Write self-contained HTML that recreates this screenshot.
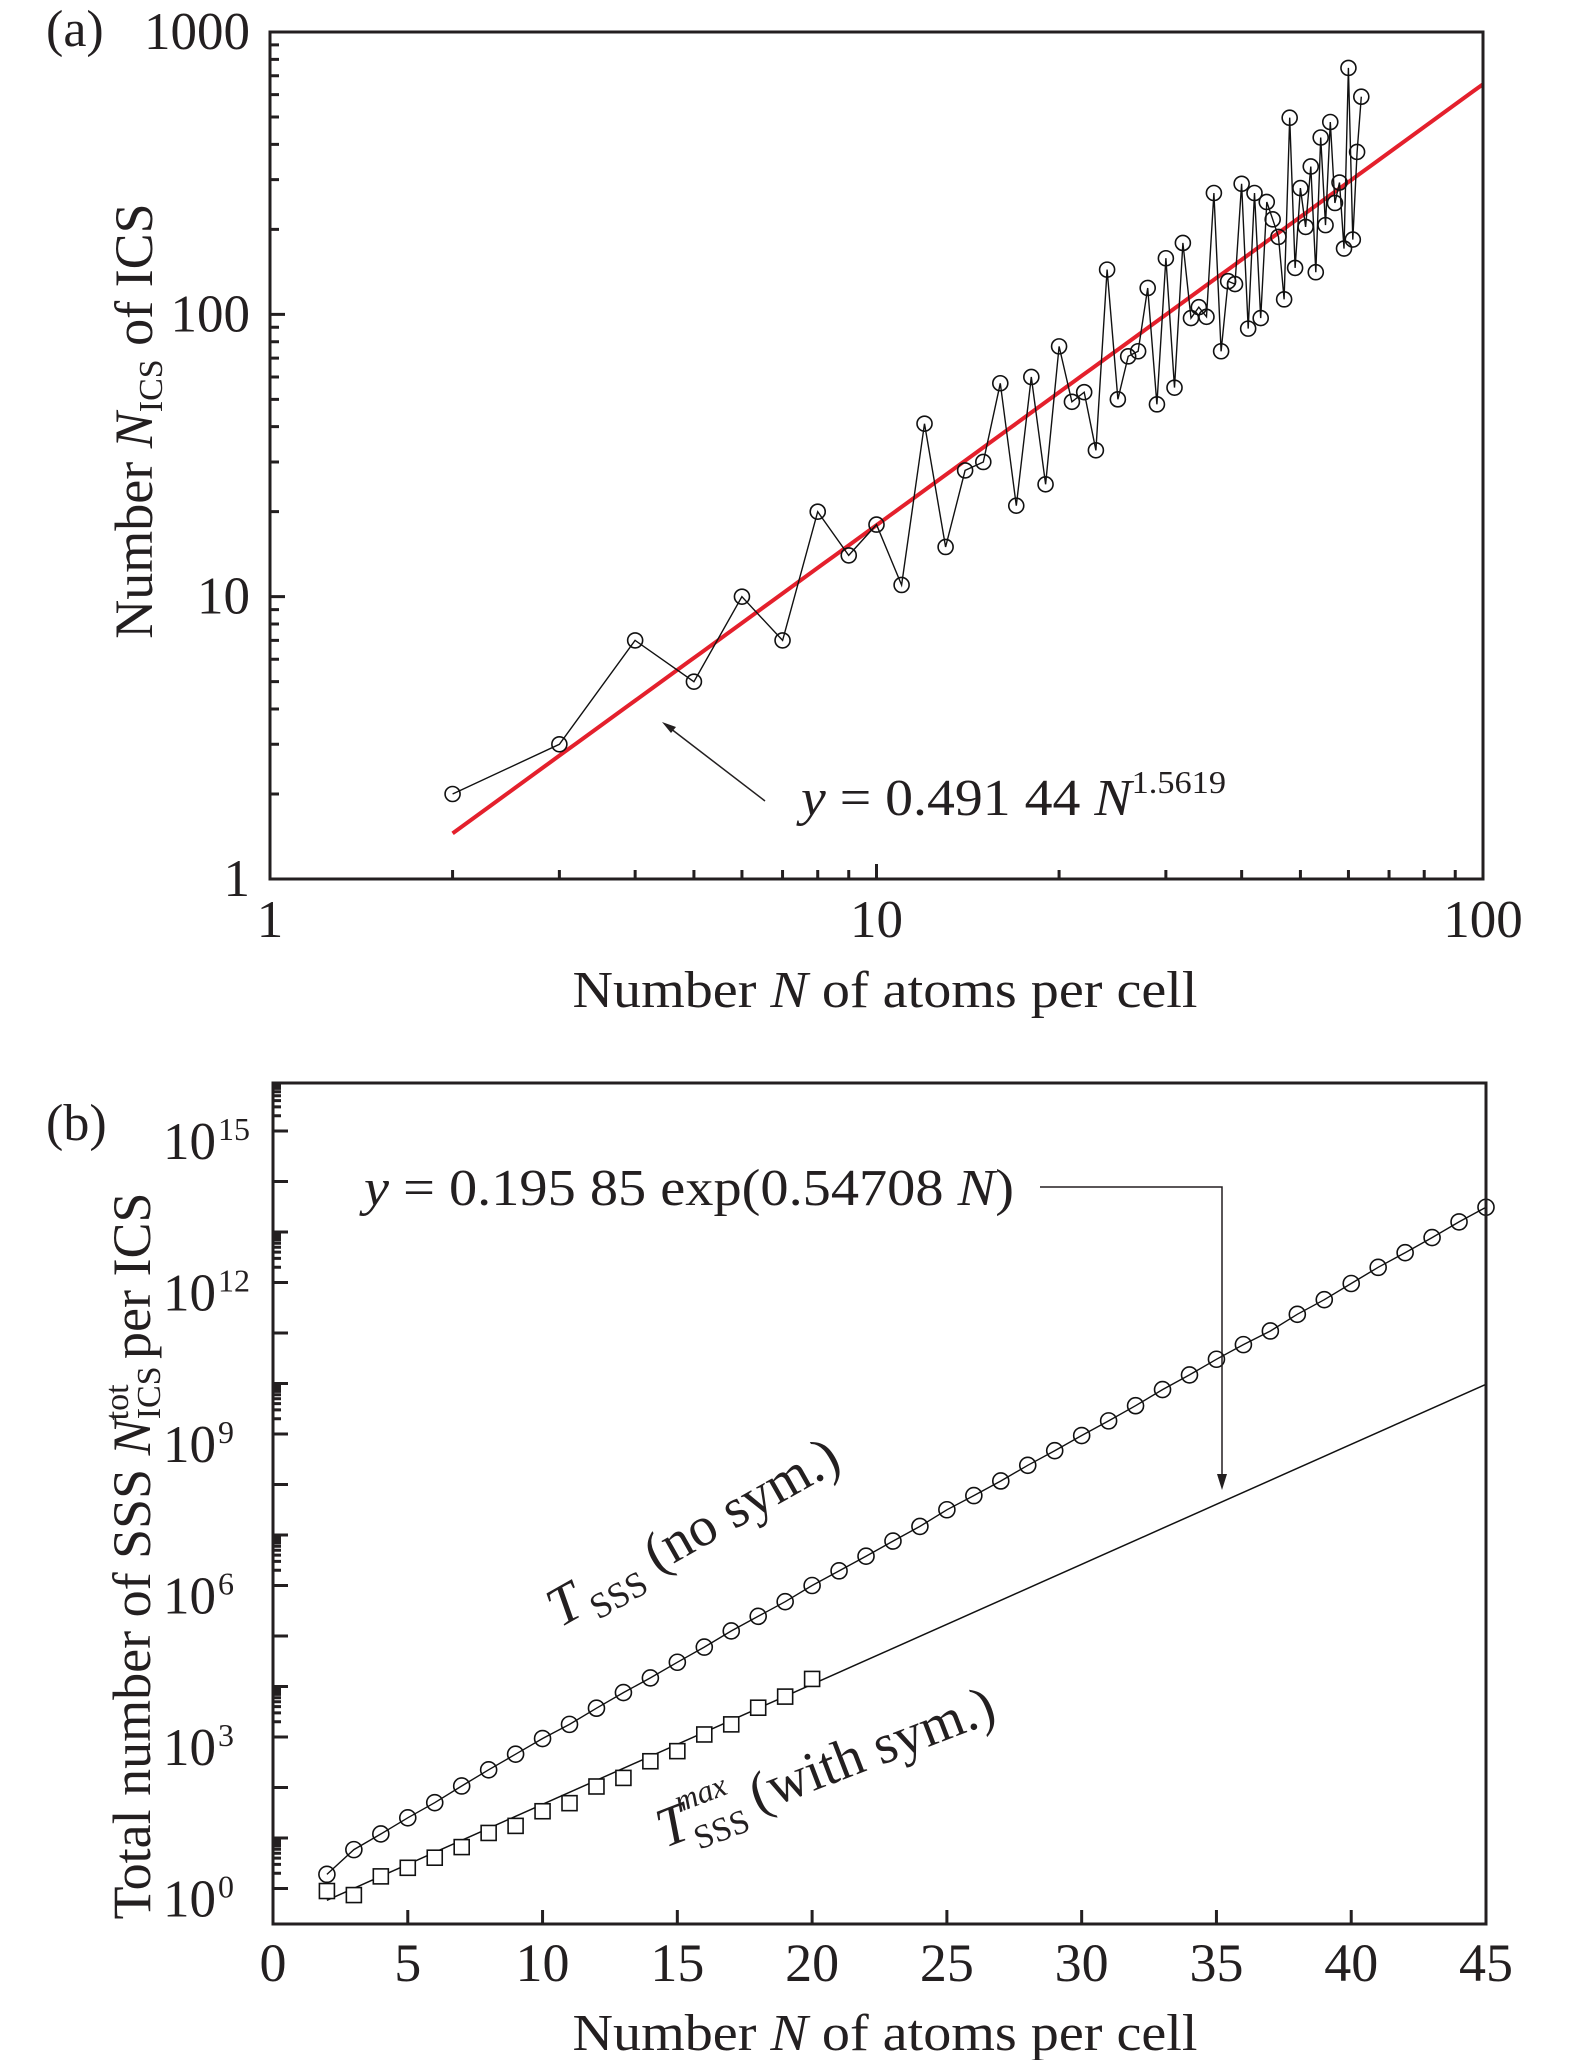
<!DOCTYPE html>
<html><head><meta charset="utf-8">
<style>
html,body{margin:0;padding:0;background:#fff;}
svg{display:block;font-family:"Liberation Serif",serif;}
</style></head>
<body>
<svg id="fig" width="1575" height="2060" viewBox="0 0 1575 2060" xmlns="http://www.w3.org/2000/svg">
<g id="pa"></g>
<g id="pb"></g>
</svg>
<script>
// ---------- Panel (a) data ----------
const aN = [2,3,4,5,6,7,8,9,10,11,12,13,14,15,16,17,18,19,20,21,22,23,24,25,26,27,28,29,30,31,32,33,34,35,36,37,38,39,40,41,42,43,44,45,46,47,48,49,50,51,52,53,54,55,56,57,58,59,60,61,62,63];
const aNics = [2,3,7,5,10,7,20,14,18,11,41,15,28,30,57,21,60,25,77,49,53,33,144,50,71,74,124,48,158,55,179,97,106,98,269,74,131,128,290,89,269,97,250,217,188,113,497,146,280,204,334,141,423,207,480,248,293,171,746,184,376,590];
const aFit = [0.49144, 1.5619]; // y = c * N^p
const aXTicks = [1,10,100];
const aYTicks = [1,10,100,1000];

// ---------- Panel (b) data ----------
const bN = [2,3,4,5,6,7,8,9,10,11,12,13,14,15,16,17,18,19,20,21,22,23,24,25,26,27,28,29,30,31,32,33,34,35,36,37,38,39,40,41,42,43,44,45];
const bTsssLog = [0.28,0.77,1.08,1.40,1.70,2.03,2.35,2.66,2.97,3.25,3.57,3.88,4.17,4.48,4.78,5.10,5.39,5.68,6.00,6.29,6.58,6.88,7.17,7.50,7.78,8.07,8.38,8.67,8.97,9.26,9.56,9.88,10.17,10.48,10.77,11.04,11.37,11.66,11.98,12.30,12.59,12.89,13.20,13.49];
const bSqN = [2,3,4,5,6,7,8,9,10,11,12,13,14,15,16,17,18,19,20];
const bSqLog = [-0.05,-0.13,0.24,0.41,0.61,0.82,1.10,1.24,1.53,1.69,2.02,2.19,2.52,2.72,3.05,3.25,3.58,3.80,4.15];
const bFit = [0.19585, 0.54708]; // y = c * exp(r N)
const bXTicks = [0,5,10,15,20,25,30,35,40,45];
const bYLabelExp = [0,3,6,9,12,15];

const NS = "http://www.w3.org/2000/svg";
function mk(parent, tag, attrs){const e=document.createElementNS(NS,tag);for(const k in attrs)e.setAttribute(k,attrs[k]);parent.appendChild(e);return e;}

// ===== Panel A =====
const pa = document.getElementById('pa');
const A = {l:270,r:1483,t:32,b:879};
const ax = v => A.l + Math.log10(v)/2*(A.r-A.l);
const ay = v => A.b - Math.log10(v)/3*(A.b-A.t);

let d='';
for(let i=0;i<=100;i++){const n=2*Math.pow(50,i/100);d+=(i?'L':'M')+ax(n).toFixed(1)+' '+ay(aFit[0]*Math.pow(n,aFit[1])).toFixed(1);}
const redLine = mk(pa,'path',{d:d,fill:'none',stroke:'#e4202c','stroke-width':4});



let dd='';
aN.forEach((n,i)=>{dd+=(i?'L':'M')+ax(n).toFixed(1)+' '+ay(aNics[i]).toFixed(1);});
const aLine = mk(pa,'path',{d:dd,fill:'none',stroke:'#111','stroke-width':1.4});


aN.forEach((n,i)=>{
  const c = mk(pa,'circle',{cx:ax(n),cy:ay(aNics[i]),r:7.5,fill:'none',stroke:'#111','stroke-width':1.6});
  
  
});

const fa = mk(pa,'rect',{x:A.l,y:A.t,width:A.r-A.l,height:A.b-A.t,fill:'none',stroke:'#231f20','stroke-width':3});


let tk='';
for(let dec=1;dec<100;dec*=10){for(let k=1;k<=9;k++){const v=dec*k;const x=ax(v);const L=(k==1)?15:9;tk+=`M${x} ${A.b}v${-L}`;}}
for(let dec=1;dec<1000;dec*=10){for(let k=1;k<=9;k++){const v=dec*k;const y=ay(v);const L=(k==1)?15:9;tk+=`M${A.l} ${y}h${L}`;}}
const ta = mk(pa,'path',{d:tk,stroke:'#231f20','stroke-width':3,fill:'none'});


aXTicks.forEach(v=>{const t=mk(pa,'text',{x:ax(v),y:937,'font-size':53,'text-anchor':'middle',fill:'#231f20'});t.textContent=String(v);
  
  });
aYTicks.forEach(v=>{const t=mk(pa,'text',{x:250,y:ay(v)+17,'font-size':53,'text-anchor':'end',fill:'#231f20'});t.textContent=String(v);
  
  });

pa.insertAdjacentHTML('beforeend',`
<text x="46" y="46" font-size="52" fill="#231f20">(a)</text>
<text transform="translate(152,421) rotate(-90)" text-anchor="middle" font-size="54" fill="#231f20">Number <tspan font-style="italic">N</tspan><tspan font-size="34" dy="10">ICS</tspan><tspan dy="-10"> of ICS</tspan></text>
<text x="885" y="1007" text-anchor="middle" font-size="52" fill="#231f20" textLength="625" lengthAdjust="spacingAndGlyphs">Number <tspan font-style="italic">N</tspan> of atoms per cell</text>
<text x="801" y="815" font-size="52" fill="#231f20" textLength="425" lengthAdjust="spacingAndGlyphs"><tspan font-style="italic">y</tspan> = 0.491 44 <tspan font-style="italic">N</tspan><tspan font-size="32" dy="-22">1.5619</tspan></text>
<g>
<line x1="765" y1="801" x2="666" y2="725" stroke="#231f20" stroke-width="1.5"/>
<path d="M662 722 L676 727 L671 733 Z" fill="#231f20"/>
</g>`);

// ===== Panel B =====
const pb = document.getElementById('pb');
const B = {l:273,r:1486,t:1083,b:1924};
const bx = n => B.l + n*(B.r-B.l)/45;
const by = lg => 1888.5 - lg*50.5;

let fd='';
for(let i=0;i<=86;i++){const n=2+i*0.5;fd+=(i?'L':'M')+bx(n).toFixed(1)+' '+by(Math.log10(bFit[0]*Math.exp(bFit[1]*n))).toFixed(1);}
const fitB = mk(pb,'path',{d:fd,fill:'none',stroke:'#111','stroke-width':1.5});



let cd='';
bN.forEach((n,i)=>{cd+=(i?'L':'M')+bx(n).toFixed(1)+' '+by(bTsssLog[i]).toFixed(1);});
const tl = mk(pb,'path',{d:cd,fill:'none',stroke:'#111','stroke-width':1.4});


bN.forEach((n,i)=>{
  const c=mk(pb,'circle',{cx:bx(n),cy:by(bTsssLog[i]),r:8,fill:'none',stroke:'#111','stroke-width':1.6});
  
  
});
bSqN.forEach((n,i)=>{
  const s=mk(pb,'rect',{x:bx(n)-7.5,y:by(bSqLog[i])-7.5,width:15,height:15,fill:'#fff',stroke:'#111','stroke-width':1.6});
  
  
});

const fb = mk(pb,'rect',{x:B.l,y:B.t,width:B.r-B.l,height:B.b-B.t,fill:'none',stroke:'#231f20','stroke-width':3});


let tb='';
bXTicks.forEach(v=>{tb+=`M${bx(v)} ${B.b}v-14`;});
for(let e=0;e<=15;e++){tb+=`M${B.l} ${by(e)}h15`;}
bYLabelExp.forEach(e=>{for(let k=2;k<=9;k++){const y=by(e+1)+50.5*(1-Math.log10(k));if(y>B.t)tb+=`M${B.l} ${y}h8`;}});
const tbp = mk(pb,'path',{d:tb,stroke:'#231f20','stroke-width':3,fill:'none'});


bXTicks.forEach(v=>{const t=mk(pb,'text',{x:bx(v),y:1981,'font-size':54,'text-anchor':'middle',fill:'#231f20'});t.textContent=String(v);
  
  });
bYLabelExp.forEach(e=>{
  const t=mk(pb,'text',{x:216,y:by(e)+28,'font-size':53,'text-anchor':'end',fill:'#231f20'});t.textContent='10';
  
  
  const s=mk(pb,'text',{x:218,y:by(e)+9,'font-size':32,'text-anchor':'start',fill:'#231f20'});s.textContent=String(e);
  
  
});

pb.insertAdjacentHTML('beforeend',`
<text x="46" y="1140" font-size="52" fill="#231f20">(b)</text>
<text transform="translate(150,1556) rotate(-90)" text-anchor="middle" font-size="54" fill="#231f20">Total number of SSS <tspan font-style="italic">N</tspan><tspan font-size="34" dy="10">ICS</tspan><tspan font-size="34" dx="-54" dy="-32">tot</tspan><tspan dx="12" dy="22"> per ICS</tspan></text>
<text x="885" y="2050" text-anchor="middle" font-size="52" fill="#231f20" textLength="625" lengthAdjust="spacingAndGlyphs">Number <tspan font-style="italic">N</tspan> of atoms per cell</text>
<text x="364" y="1205" font-size="52" fill="#231f20" textLength="650" lengthAdjust="spacingAndGlyphs"><tspan font-style="italic">y</tspan> = 0.195 85 exp(0.54708 <tspan font-style="italic">N</tspan>)</text>
<g>
<path d="M1040 1187 H1222 V1482" fill="none" stroke="#231f20" stroke-width="1.5"/>
<path d="M1222 1490 L1217 1474 L1227 1474 Z" fill="#231f20"/>
</g>
<text transform="translate(560,1628) rotate(-29.5)" font-size="56" fill="#231f20"><tspan font-style="italic">T</tspan><tspan font-size="36" dx="6" dy="12">SSS</tspan><tspan dy="-12"> (no sym.)</tspan></text>
<text transform="translate(665,1848) rotate(-21)" font-size="56" fill="#231f20"><tspan font-style="italic">T</tspan><tspan font-size="34" dy="14">SSS</tspan><tspan font-size="32" font-style="italic" dx="-62" dy="-42">max</tspan><tspan dx="6" dy="28"> (with sym.)</tspan></text>
`);
</script>
</body></html>
